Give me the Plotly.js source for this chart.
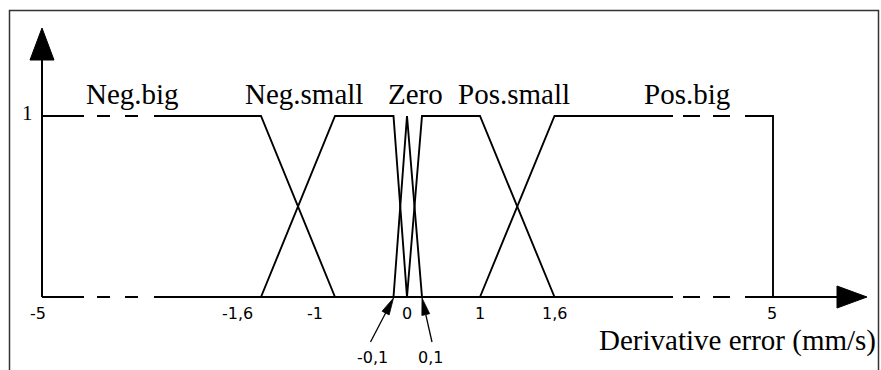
<!DOCTYPE html>
<html>
<head>
<meta charset="utf-8">
<script src="https://cdn.plot.ly/plotly-3.0.1.min.js"></script>
<style>
  html, body { margin: 0; padding: 0; background: #ffffff; }
  #chart { width: 881px; height: 370px; }
</style>
</head>
<body>
<div id="chart"></div>
<script>
// Fuzzy sets for the derivative error (mm/s)
const setNames = ['Neg.big', 'Neg.small', 'Zero', 'Pos.small', 'Pos.big'];
const negBigX = [-5, -5, -1.6, -1];
const negBigY = [0, 1, 1, 0];
const negSmallX = [-1.6, -1, -0.1, 0];
const negSmallY = [0, 1, 1, 0];
const zeroX = [-0.1, 0, 0.1];
const zeroY = [0, 1, 0];
const posSmallX = [0, 0.1, 1, 1.6];
const posSmallY = [0, 1, 1, 0];
const posBigX = [1, 1.6, 5, 5];
const posBigY = [0, 1, 1, 0];

// Axis labels
const tickValues = [-5, -1.6, -1, 0, 1, 1.6, 5];
const tickLabels = ['-5', '-1,6', '-1', '0', '1', '1,6', '5'];
const pointerValues = [-0.1, 0.1];
const pointerLabels = ['-0,1', '0,1'];
const axisTitle = 'Derivative error (mm/s)';

// ---- layout / scale configuration ----
const W = 881, H = 370;
// broken, schematic x scale: value breakpoints and their positions across the page
const SCALE_VALUES = [-5, -1.6, -1, -0.1, 0, 0.1, 1, 1.6, 5];
const SCALE_POS = [42, 261, 335, 393.5, 407, 422, 480, 554.5, 773];
function axisPos(v) {
  for (let i = 0; i < SCALE_VALUES.length - 1; i++) {
    const a = SCALE_VALUES[i], b = SCALE_VALUES[i + 1];
    if (v <= b || i === SCALE_VALUES.length - 2) {
      const t = (v - a) / (b - a);
      return SCALE_POS[i] + t * (SCALE_POS[i + 1] - SCALE_POS[i]);
    }
  }
}
// membership axis: 0 and 1 rows on the page
const ZERO_ROW = 297, ONE_ROW = 116;
const unitPx = ZERO_ROW - ONE_ROW;
const yMax = 1 + ONE_ROW / unitPx;
const yMin = -(H - ZERO_ROW) / unitPx;
function rowToY(py) { return yMax - py / H * (yMax - yMin); }

// dashed stretches where the axis is broken
const BREAKS = [[84, 154], [673, 745]];
const BREAK_DASHES = [[97, 110], [125, 138], [683, 700], [713, 730]];

// label placement (centre positions on the page) and tick label nudges
const NAME_POS = [132.5, 303.5, 415, 514, 686.5];
const TICK_SHIFT = [-4, -24, -20, 0, 0, 0, -1];
// pointer arrows: tail offset from the tip, label centre offset from the tip (px)
const POINTER_TAIL = [[-23, 44], [10, 44]];
const POINTER_TEXT = [[-21, 60], [8, 60]];

const LINE = '#000000';
const serif = 'Liberation Serif, Times New Roman, serif';
const sans = 'DejaVu Sans, sans-serif';

function setTrace(xs, ys, name) {
  return {
    type: 'scatter', mode: 'lines', name: name,
    x: xs.map(axisPos), y: ys,
    line: { color: LINE, width: 1.9 },
    hoverinfo: 'skip'
  };
}

const traces = [
  setTrace(negBigX, negBigY, setNames[0]),
  setTrace(negSmallX, negSmallY, setNames[1]),
  setTrace(zeroX, zeroY, setNames[2]),
  setTrace(posSmallX, posSmallY, setNames[3]),
  setTrace(posBigX, posBigY, setNames[4])
];

const x0 = axisPos(-5);
const shapes = [
  // outer frame
  { type: 'rect', xref: 'paper', yref: 'paper',
    x0: 9.5 / W, x1: 878.5 / W, y0: -0.2, y1: 1 - 10.5 / H,
    line: { color: '#333333', width: 1.5 }, layer: 'below' },
  // membership axis with arrow
  { type: 'line', xref: 'x', yref: 'y', x0: x0, x1: x0, y0: 0, y1: rowToY(56),
    line: { color: LINE, width: 2 }, layer: 'below' },
  { type: 'path', xref: 'x', yref: 'y',
    path: `M ${x0 - 12} ${rowToY(60)} L ${x0 + 12} ${rowToY(60)} L ${x0} ${rowToY(28)} Z`,
    fillcolor: LINE, line: { color: LINE, width: 1 }, layer: 'below' },
  // error axis with arrow
  { type: 'line', xref: 'x', yref: 'y', x0: x0, x1: 840, y0: 0, y1: 0,
    line: { color: LINE, width: 2 }, layer: 'below' },
  { type: 'path', xref: 'x', yref: 'y',
    path: `M 837 ${rowToY(286)} L 837 ${rowToY(308)} L 867 ${rowToY(297)} Z`,
    fillcolor: LINE, line: { color: LINE, width: 1 }, layer: 'below' }
];
// axis breaks: blank the stretch, then dash it
BREAKS.forEach(b => {
  shapes.push({ type: 'rect', xref: 'x', yref: 'y', x0: b[0], x1: b[1],
    y0: -0.035, y1: 1.035, fillcolor: '#ffffff', line: { width: 0 }, layer: 'above' });
});
BREAK_DASHES.forEach(d => {
  [0, 1].forEach(level => {
    shapes.push({ type: 'line', xref: 'x', yref: 'y', x0: d[0], x1: d[1],
      y0: level, y1: level, line: { color: LINE, width: 2 }, layer: 'above' });
  });
});
// slim pointer arrows for the values next to zero
const HEAD_LEN = 17, HEAD_HALF = 4;
pointerValues.forEach((v, i) => {
  const tx = axisPos(v), ty = ZERO_ROW + 1;
  const dx = POINTER_TAIL[i][0], dy = POINTER_TAIL[i][1];
  const len = Math.hypot(dx, dy), ux = dx / len, uy = dy / len;
  const bx = tx + ux * HEAD_LEN, by = ty + uy * HEAD_LEN;
  shapes.push({ type: 'line', xref: 'x', yref: 'y',
    x0: tx + dx, y0: rowToY(ty + dy), x1: bx, y1: rowToY(by),
    line: { color: LINE, width: 1.3 }, layer: 'above' });
  shapes.push({ type: 'path', xref: 'x', yref: 'y',
    path: `M ${tx} ${rowToY(ty)} L ${bx - uy * HEAD_HALF} ${rowToY(by + ux * HEAD_HALF)} ` +
          `L ${bx + uy * HEAD_HALF} ${rowToY(by - ux * HEAD_HALF)} Z`,
    fillcolor: LINE, line: { color: LINE, width: 0.8 }, layer: 'above' });
});

const annotations = [];
// set names above the plateau row
setNames.forEach((n, i) => {
  annotations.push({ xref: 'x', yref: 'y', x: NAME_POS[i], y: 1,
    xanchor: 'center', yanchor: 'bottom', yshift: 4, showarrow: false,
    text: n, font: { family: serif, size: 29, color: '#000' } });
});
// x tick labels
tickValues.forEach((v, i) => {
  annotations.push({ xref: 'x', yref: 'y', x: axisPos(v), y: 0,
    xanchor: 'center', yanchor: 'middle', xshift: TICK_SHIFT[i], yshift: -16,
    showarrow: false, text: tickLabels[i],
    font: { family: sans, size: 16, color: '#000' } });
});
// labels at the ends of the pointer arrows
pointerValues.forEach((v, i) => {
  annotations.push({ xref: 'x', yref: 'y', x: axisPos(v), y: 0,
    xanchor: 'center', yanchor: 'middle',
    xshift: POINTER_TEXT[i][0], yshift: -POINTER_TEXT[i][1],
    showarrow: false, text: pointerLabels[i],
    font: { family: sans, size: 16, color: '#000' } });
});
// membership value 1
annotations.push({ xref: 'x', yref: 'y', x: x0, y: 1, xanchor: 'right', yanchor: 'middle',
  xshift: -7, yshift: 3, showarrow: false, text: '1',
  font: { family: serif, size: 21, color: '#000' } });
// axis title
annotations.push({ xref: 'paper', yref: 'paper', x: 878 / W, y: 1 - 340 / H,
  xanchor: 'right', yanchor: 'middle', showarrow: false, text: axisTitle,
  font: { family: serif, size: 29, color: '#000' } });

const layout = {
  width: W, height: H,
  margin: { l: 0, r: 0, t: 0, b: 0, pad: 0 },
  paper_bgcolor: '#ffffff', plot_bgcolor: '#ffffff',
  showlegend: false,
  xaxis: { range: [0, W], visible: false, fixedrange: true },
  yaxis: { range: [yMin, yMax], visible: false, fixedrange: true },
  shapes: shapes,
  annotations: annotations
};

Plotly.newPlot('chart', traces, layout, { staticPlot: true, displayModeBar: false });
</script>
</body>
</html>
